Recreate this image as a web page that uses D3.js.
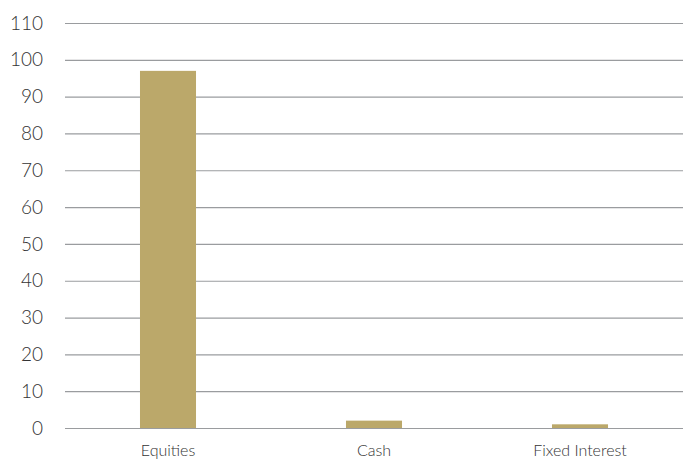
<!DOCTYPE html>
<html><head><meta charset="utf-8">
<script src="https://cdn.jsdelivr.net/npm/d3@7"></script>
<style>
html,body{margin:0;padding:0;background:#fff;}
svg text{font-family:"Lato","Open Sans",sans-serif;font-weight:300;fill:#333;}
</style></head>
<body><svg id="c" width="683" height="461"></svg>
<script>
const categories = ["Equities", "Cash", "Fixed Interest"];
const values = [97, 2, 1];
const yTicks = [0, 10, 20, 30, 40, 50, 60, 70, 80, 90, 100, 110];

(function () {
const svg = d3.select("#c");
const mLeft = 65, mRight = 683, mTop = 23, mBottom = 428;
const x = d3.scaleBand().domain(categories).range([mLeft, mRight]).padding(0);
const y = d3.scaleLinear().domain([0, 110]).range([mBottom, mTop]);

const yAxis = svg.append("g").attr("transform", `translate(${mLeft},0)`)
  .call(d3.axisLeft(y).tickValues(yTicks).tickSize(-(mRight - mLeft)).tickPadding(22));
yAxis.select(".domain").remove();
yAxis.selectAll(".tick line").attr("stroke", "#9a9c9f").attr("stroke-width", 1.2);
yAxis.selectAll(".tick text").style("font-size", "19px").attr("fill", "#333");

const bw = x.bandwidth() * 0.272;
svg.append("g").selectAll("rect").data(categories).join("rect")
  .attr("x", d => x(d) + x.bandwidth() / 2 - bw / 2)
  .attr("width", bw)
  .attr("y", (d, i) => y(values[i]))
  .attr("height", (d, i) => y(0) - y(values[i]))
  .attr("fill", "#bba86a");

const xAxis = svg.append("g").attr("transform", `translate(0,${mBottom})`)
  .call(d3.axisBottom(x).tickSize(0).tickPadding(17));
xAxis.select(".domain").remove();
xAxis.selectAll(".tick text").style("font-size", "16px").attr("fill", "#333");
})();
</script></body></html>
